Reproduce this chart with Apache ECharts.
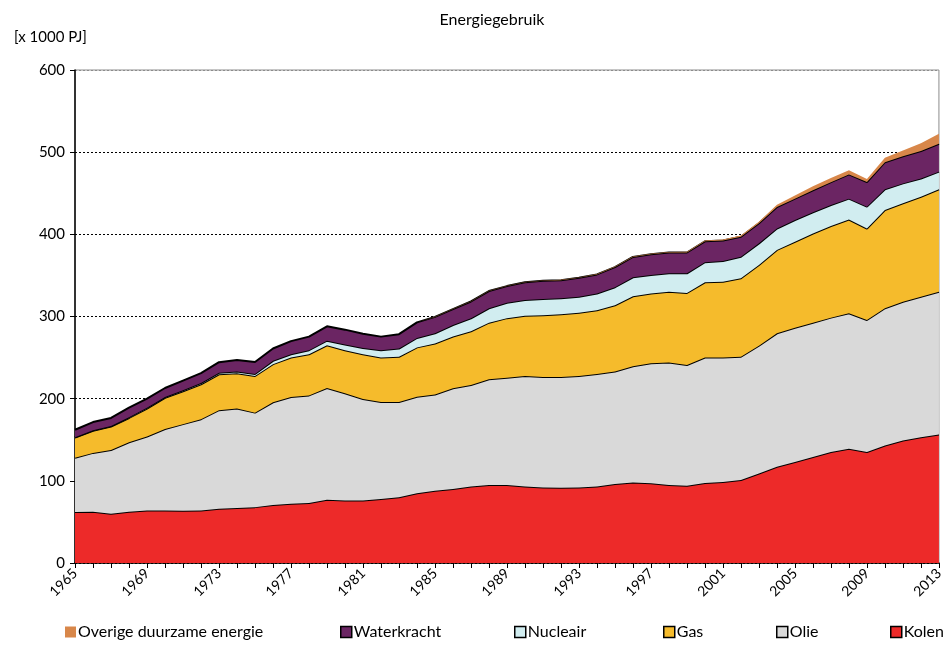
<!DOCTYPE html>
<html>
<head>
<meta charset="utf-8">
<title>Energiegebruik</title>
<script src="https://cdn.jsdelivr.net/npm/echarts@6/dist/echarts.min.js"></script>
<style>
  html, body { margin: 0; padding: 0; background: #fff; }
  #chart { width: 946px; height: 666px; }
</style>
</head>
<body>
<div id="chart"></div>
<script>
// jaren 1965 - 2013
const years = []
for (let y = 1965; y <= 2013; y++) years.push(String(y))

// waarden in 1000 PJ
const kolen = [62, 62.5, 60, 62.5, 64, 64, 63.5, 64, 66, 67, 68, 70.5, 72, 73, 77, 76, 76, 78, 80, 85,
  88, 90, 93, 95, 95, 93, 92, 91.5, 92, 93, 96, 98, 97, 95, 94, 97.5, 98.5, 101, 109, 117,
  123, 129, 135, 139, 135, 143, 149, 153, 156.5]
const olie = [66, 71.5, 77.5, 84.5, 90, 99, 105.5, 111, 120, 121, 115, 125, 130, 131, 136, 130.5, 123.5, 118, 116, 117.4,
  117, 122.6, 123.6, 128.5, 130.5, 134.6, 134.4, 135, 135.6, 137, 137, 141.5, 146, 149, 147, 152.5, 151.5, 150, 155.5, 162.5,
  163.4, 163.5, 163.6, 165, 160.7, 167, 169, 171, 173.5]
const gas = [24.7, 27, 28.5, 29.5, 34, 38, 40, 42.5, 43.6, 43, 44.6, 46.5, 48, 50, 52, 52.5, 54.5, 54, 55, 60,
  62, 63, 65.4, 69, 72.5, 73.4, 75, 76.2, 77, 77.5, 80.6, 85, 85, 86, 87.6, 91.6, 92.4, 95.5, 98.2, 101.5,
  104.6, 108.5, 111.4, 114, 111.3, 119.6, 119.7, 121.8, 124.8]
const nucleair = [0.3, 0.5, 0.7, 0.9, 1, 0.9, 1.2, 1.5, 1.8, 2.2, 2.5, 4, 4, 5, 5.6, 7, 7.7, 9, 10, 11.5,
  12.5, 14, 15.8, 17.5, 18.8, 19, 20, 19.5, 19.3, 20.5, 22, 23.2, 22.5, 22.5, 24, 24.4, 25, 26.3, 26.3, 26,
  26.4, 25.8, 25.7, 25.4, 26.7, 25.2, 24.3, 22, 21.5]
const waterkracht = [9.2, 10, 9.8, 11.6, 11, 11.1, 11.8, 12, 13, 14, 14.5, 15, 16, 16.5, 17.5, 18, 17.3, 16.5, 17.5, 19,
  20, 19.4, 20.5, 21, 20.2, 21.6, 22, 22, 23.2, 23.2, 24.5, 24.8, 25.2, 25.3, 25.3, 25.5, 25, 24.2, 24.4, 26.2,
  26, 26.7, 27.8, 29.5, 30, 33, 33, 33.5, 34]
const overig = [0, 0, 0, 0, 0, 0, 0, 0, 0, 0, 0, 0, 0, 0, 0, 0, 0, 0, 0, 0.2,
  0.2, 0.3, 0.3, 0.3, 0.4, 0.4, 0.4, 0.5, 0.5, 0.5, 0.6, 0.6, 0.7, 0.8, 0.8, 1, 1.2, 1.5, 2, 2.8,
  4, 5, 5, 5, 3.5, 5.5, 7, 9.5, 12]

const yTicks = [0, 100, 200, 300, 400, 500, 600]

const font = 'Lato, "Open Sans", sans-serif'

const lagen = [
  { name: 'Kolen', data: kolen, color: '#ED2A29' },
  { name: 'Olie', data: olie, color: '#D9D9D9' },
  { name: 'Gas', data: gas, color: '#F5BB2C' },
  { name: 'Nucleair', data: nucleair, color: '#D1EDF0' },
  { name: 'Waterkracht', data: waterkracht, color: '#6B2563' },
  { name: 'Overige duurzame energie', data: overig, color: '#D8874A' }
]

const chart = echarts.init(document.getElementById('chart'))

// legenda: losse items op vaste posities
const legendPos = [
  { name: 'Overige duurzame energie', left: 60 },
  { name: 'Waterkracht', left: 335 },
  { name: 'Nucleair', left: 509 },
  { name: 'Gas', left: 658 },
  { name: 'Olie', left: 771 },
  { name: 'Kolen', left: 885 }
]

// gridlijnen: zwart gestippeld, bovenste valt samen met de grijze rand
const splitColors = yTicks.map((t, i) => (i === yTicks.length - 1 ? '#8c8c8c' : '#000'))

const option = {
  animation: false,
  backgroundColor: '#fff',
  textStyle: { fontFamily: font },
  title: [
    {
      text: 'Energiegebruik',
      left: 487,
      top: 7,
      textAlign: 'center',
      textStyle: { fontSize: 16, fontWeight: 'normal', color: '#000', fontFamily: font }
    },
    {
      text: '[x 1000 PJ]',
      left: 9,
      top: 25,
      textStyle: { fontSize: 15, fontWeight: 'normal', color: '#000', fontFamily: font }
    }
  ],
  legend: legendPos.map(l => ({
    left: l.left,
    top: 619,
    itemWidth: 11,
    itemHeight: 11,
    itemGap: 4,
    icon: 'rect',
    selectedMode: false,
    textStyle: { fontSize: 16, color: '#000', fontFamily: font, padding: [0, 0, 0, -3] },
    data: [{
      name: l.name,
      itemStyle: l.name === 'Overige duurzame energie'
        ? { borderWidth: 0 }
        : { borderColor: '#000', borderWidth: 1.5 }
    }]
  })),
  grid: {
    left: 75,
    right: 5,
    top: 70,
    bottom: 103,
    show: true,
    borderColor: '#8c8c8c',
    borderWidth: 1
  },
  xAxis: {
    type: 'category',
    data: years,
    boundaryGap: false,
    axisLine: { lineStyle: { color: '#000', width: 1.5 } },
    axisTick: { interval: 0, length: 5, lineStyle: { color: '#000' } },
    axisLabel: {
      interval: 3,
      rotate: 45,
      fontSize: 14,
      color: '#000',
      margin: 8,
      fontFamily: font
    },
    splitLine: { show: false }
  },
  yAxis: {
    type: 'value',
    min: yTicks[0],
    max: yTicks[yTicks.length - 1],
    interval: 100,
    axisLine: { show: true, lineStyle: { color: '#000', width: 1.5 } },
    axisTick: { show: true, length: 5, lineStyle: { color: '#000' } },
    axisLabel: { fontSize: 15, color: '#000', margin: 10, fontFamily: font },
    splitLine: { show: true, lineStyle: { color: splitColors, type: [2, 2], width: 1 } }
  },
  series: lagen.map((l, i) => ({
    name: l.name,
    type: 'line',
    stack: 'totaal',
    data: l.data,
    showSymbol: false,
    symbol: 'none',
    z: 2 + i,
    itemStyle: { color: l.color },
    lineStyle: i === 5 ? { width: 0 } : { color: '#000', width: 2 },
    areaStyle: { color: l.color, opacity: 1 }
  }))
}

chart.setOption(option)
</script>
</body>
</html>
